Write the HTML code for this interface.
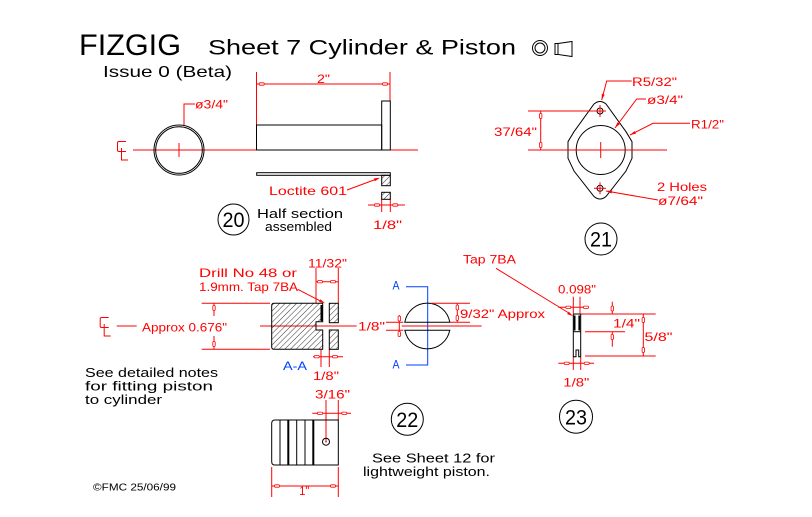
<!DOCTYPE html>
<html><head><meta charset="utf-8"><style>
html,body{margin:0;padding:0;background:#fff;}
svg{display:block;}
text{font-family:"Liberation Sans",sans-serif;}
.r{fill:#f00;font-size:12px;}
.k{fill:#000;font-size:13px;}
.b{fill:#0040ff;font-size:12px;}
.n{fill:#000;font-size:21px;}
</style></head><body>
<svg width="812" height="517" viewBox="0 0 812 517" xmlns="http://www.w3.org/2000/svg">
<defs>
<pattern id="h" width="4" height="4" patternUnits="userSpaceOnUse" patternTransform="rotate(45)">
<line x1="0" y1="0" x2="0" y2="4" stroke="#000" stroke-width="0.8"/>
</pattern>
<pattern id="d" width="3" height="3" patternUnits="userSpaceOnUse">
<rect x="0" y="1" width="1.5" height="1" fill="#000"/>
</pattern>
</defs>
<rect width="812" height="517" fill="#fff"/>

<!-- Title -->
<text x="79" y="55" font-size="30" textLength="102" lengthAdjust="spacingAndGlyphs" fill="#000">FIZGIG</text>
<text x="208" y="54.5" font-size="21" textLength="308" lengthAdjust="spacingAndGlyphs" fill="#000">Sheet 7 Cylinder &amp; Piston</text>
<circle cx="540" cy="48" r="7.5" fill="none" stroke="#000"/>
<circle cx="540" cy="48" r="5" fill="none" stroke="#000"/>
<path d="M558,43.5 L572,41.5 L572,56.5 L558,54.5 Z M558,43.5 H555 V54.5 H558" fill="none" stroke="#000"/>
<text x="103" y="77" font-size="16" textLength="129" lengthAdjust="spacingAndGlyphs" fill="#000">Issue 0 (Beta)</text>

<!-- Drawing 20 -->
<g stroke="#f00" stroke-width="1" fill="none">
<line x1="256.5" y1="72" x2="256.5" y2="125"/>
<line x1="390" y1="72" x2="390" y2="101"/>
<line x1="256.5" y1="84" x2="390" y2="84"/>
<line x1="133" y1="150" x2="418" y2="150"/>
<line x1="179" y1="143" x2="179" y2="157"/>
<polyline points="184,125 184,104 195,104"/>
<path d="M126,141.5 H119 Q117.5,141.5 117.5,143 V150 Q117.5,151.5 119,151.5 H126 M121.5,148 V160 H128"/>
<line x1="347" y1="190" x2="378" y2="178.5"/>
<line x1="381.7" y1="199" x2="381.7" y2="212"/>
<line x1="390.3" y1="199" x2="390.3" y2="212"/>
<line x1="368" y1="205" x2="405" y2="205"/>
</g>
<g fill="#fff" stroke="#f00" stroke-width="0.8">
<rect x="259.2" y="82.8" width="5" height="2.4" rx="1"/>
<rect x="382.5" y="82.8" width="5" height="2.4" rx="1"/>
<rect x="374.5" y="203.8" width="5" height="2.4" rx="1"/>
<rect x="392.8" y="203.8" width="5" height="2.4" rx="1"/>
</g>
<polygon points="380,177.7 374.9,181.2 373.9,178.4" fill="#f00"/>
<text class="r" x="317" y="83" textLength="13" lengthAdjust="spacingAndGlyphs">2"</text>
<text class="r" x="195" y="108.5" textLength="33" lengthAdjust="spacingAndGlyphs">ø3/4"</text>
<text class="r" x="269" y="195" textLength="78" lengthAdjust="spacingAndGlyphs">Loctite 601</text>
<text class="r" x="373" y="229" textLength="29" lengthAdjust="spacingAndGlyphs">1/8"</text>
<g stroke="#000" stroke-width="1" fill="none">
<circle cx="179" cy="150" r="25"/>
<circle cx="179" cy="150" r="23.3"/>
<rect x="256.5" y="125" width="125.2" height="25"/>
<rect x="381.7" y="101" width="8.6" height="49"/>
<rect x="256.7" y="172.7" width="133.6" height="2.6" fill="url(#d)"/>
<rect x="381.7" y="175.3" width="8.6" height="10.4" fill="url(#h)"/>
<rect x="381.7" y="192.3" width="8.6" height="7" fill="url(#h)"/>
<circle cx="233.5" cy="219.5" r="15.5"/>
</g>
<text class="n" x="222.5" y="227" textLength="22" lengthAdjust="spacingAndGlyphs">20</text>
<text class="k" x="257" y="218" textLength="86" lengthAdjust="spacingAndGlyphs">Half section</text>
<text class="k" x="265" y="231" textLength="67" lengthAdjust="spacingAndGlyphs">assembled</text>

<!-- Drawing 21 -->
<g stroke="#000" stroke-width="1" fill="none">
<path d="M594,104 Q600,99 606,104 L626,131.7 L632,141.7 L632,158.3 L626,171 L606,196.5 Q600,201.5 594,196.5 L574,171 L568,158.3 L568,141.7 L574,131.7 Z"/>
<circle cx="600.7" cy="150" r="24.5"/>
<circle cx="600" cy="111" r="3"/>
<circle cx="600" cy="188.3" r="3"/>
<circle cx="601" cy="239" r="16"/>
</g>
<g stroke="#f00" stroke-width="1" fill="none">
<line x1="528" y1="150" x2="667" y2="150"/>
<line x1="600.7" y1="142" x2="600.7" y2="158"/>
<line x1="594" y1="111" x2="606" y2="111"/>
<line x1="600" y1="105" x2="600" y2="117"/>
<line x1="594" y1="188.3" x2="606" y2="188.3"/>
<line x1="600" y1="182.3" x2="600" y2="194.3"/>
<line x1="528" y1="111" x2="594" y2="111"/>
<line x1="540.7" y1="111" x2="540.7" y2="150"/>
<polyline points="601.7,100 606.7,81 631.7,81"/>
<polyline points="615,128 636.7,99 646,99"/>
<polyline points="630,135 653,123.3 690,123.3"/>
<line x1="606" y1="191" x2="658" y2="200"/>
</g>
<g fill="#fff" stroke="#f00" stroke-width="0.8">
<rect x="539.5" y="113.5" width="2.4" height="5" rx="1"/>
<rect x="539.5" y="142.5" width="2.4" height="5" rx="1"/>
</g>
<g fill="#f00">
<polygon points="636.03,133.62 634.67,130.94 630,135"/>
<polygon points="619.8,124.1 617.4,122.3 615,128"/>
<polygon points="604.7,94.6 601.8,93.8 601.7,100"/>
<polygon points="612.2,190.5 611.6,193.5 606,191"/>
</g>
<text class="r" x="494" y="136" textLength="43" lengthAdjust="spacingAndGlyphs">37/64"</text>
<text class="r" x="632" y="86" textLength="45" lengthAdjust="spacingAndGlyphs">R5/32"</text>
<text class="r" x="647" y="104" textLength="36" lengthAdjust="spacingAndGlyphs">ø3/4"</text>
<text class="r" x="691" y="128.5" textLength="33" lengthAdjust="spacingAndGlyphs">R1/2"</text>
<text class="r" x="657" y="191" textLength="50" lengthAdjust="spacingAndGlyphs">2 Holes</text>
<text class="r" x="658" y="205" textLength="45" lengthAdjust="spacingAndGlyphs">ø7/64"</text>
<text class="n" x="590" y="246.5" textLength="22" lengthAdjust="spacingAndGlyphs">21</text>

<!-- Drawing 22 section -->
<g stroke="#f00" stroke-width="1" fill="none">
<line x1="297.7" y1="289.3" x2="321" y2="301.3"/>
<line x1="316" y1="268" x2="316" y2="303"/>
<line x1="338.3" y1="268" x2="338.3" y2="303"/>
<line x1="316" y1="281.7" x2="338.3" y2="281.7"/>
<line x1="260" y1="326" x2="356.7" y2="326"/>
<line x1="321" y1="349" x2="321" y2="367"/>
<line x1="329.3" y1="349" x2="329.3" y2="367"/>
<line x1="313" y1="356.7" x2="343" y2="356.7"/>
<line x1="201.7" y1="303.3" x2="270" y2="303.3"/>
<line x1="201.7" y1="349.3" x2="270" y2="349.3"/>
<line x1="214" y1="303.3" x2="214" y2="316"/>
<line x1="214" y1="336" x2="214" y2="349.3"/>
<line x1="116.7" y1="326" x2="136.7" y2="326"/>
<path transform="translate(-17.3,176)" d="M126,141.5 H119 Q117.5,141.5 117.5,143 V150 Q117.5,151.5 119,151.5 H126 M121.5,148 V160 H128"/>
</g>
<g fill="#fff" stroke="#f00" stroke-width="0.8">
<rect x="317.5" y="280.5" width="5" height="2.4" rx="1"/>
<rect x="330.5" y="280.5" width="5" height="2.4" rx="1"/>
<rect x="314.2" y="355.5" width="5" height="2.4" rx="1"/>
<rect x="332.5" y="355.5" width="5" height="2.4" rx="1"/>
<rect x="212.8" y="305.5" width="2.4" height="5" rx="1"/>
<rect x="212.8" y="341.5" width="2.4" height="5" rx="1"/>
</g>
<polygon points="318.99,301.89 320.35,299.23 325,303.3" fill="#f00"/>
<g stroke="#000" stroke-width="1">
<path d="M274,303.3 L322.7,303.3 L322.7,321.7 L316,321.7 L316,330 L322.7,330 L322.7,349.3 L274,349.3 Q271.7,349.3 271.7,347 L271.7,305.6 Q271.7,303.3 274,303.3 Z" fill="url(#h)"/>
<line x1="321.5" y1="305" x2="321.5" y2="321" stroke-width="2"/>
<rect x="329.3" y="303.3" width="9" height="19.4" fill="url(#h)"/>
<rect x="329.3" y="330" width="9" height="19.3" fill="url(#h)"/>
</g>
<text class="r" x="199" y="277" textLength="98" lengthAdjust="spacingAndGlyphs">Drill No 48 or</text>
<text class="r" x="199" y="291" textLength="99" lengthAdjust="spacingAndGlyphs">1.9mm. Tap 7BA</text>
<text class="r" x="308" y="267.5" textLength="39" lengthAdjust="spacingAndGlyphs">11/32"</text>
<text class="r" x="358" y="330.5" textLength="27" lengthAdjust="spacingAndGlyphs">1/8"</text>
<text class="r" x="313" y="380" textLength="26" lengthAdjust="spacingAndGlyphs">1/8"</text>
<text class="b" x="283" y="370" textLength="24" lengthAdjust="spacingAndGlyphs">A-A</text>
<text class="r" x="142" y="331.5" textLength="85" lengthAdjust="spacingAndGlyphs">Approx 0.676"</text>
<text class="k" x="85" y="377" textLength="133" lengthAdjust="spacingAndGlyphs">See detailed notes</text>
<text class="k" x="85" y="390.5" textLength="128" lengthAdjust="spacingAndGlyphs">for fitting piston</text>
<text class="k" x="85" y="404" textLength="77" lengthAdjust="spacingAndGlyphs">to cylinder</text>

<!-- A-A view -->
<g stroke="#0040ff" stroke-width="1" fill="none">
<polyline points="406,286.7 427.7,286.7 427.7,365 406,365"/>
</g>
<text class="b" x="392.5" y="289.5" textLength="7" lengthAdjust="spacingAndGlyphs">A</text>
<text class="b" x="392.5" y="368.5" textLength="7" lengthAdjust="spacingAndGlyphs">A</text>
<g stroke="#000" stroke-width="1" fill="none">
<path d="M404.8,322.3 A22.8,22.8 0 0 1 449.8,322.3"/>
<path d="M404.9,330.3 A22.8,22.8 0 0 0 449.7,330.3"/>
<line x1="404.3" y1="322.3" x2="450.3" y2="322.3"/>
<line x1="404.3" y1="330.3" x2="450.3" y2="330.3"/>
</g>
<g stroke="#f00" stroke-width="1" fill="none">
<line x1="401.7" y1="326" x2="481.7" y2="326"/>
<line x1="386" y1="322.3" x2="403.3" y2="322.3"/>
<line x1="386" y1="330.3" x2="403.3" y2="330.3"/>
<line x1="399.3" y1="315" x2="399.3" y2="336.7"/>
<line x1="431" y1="303.3" x2="470" y2="303.3"/>
<line x1="450" y1="322.3" x2="470" y2="322.3"/>
<line x1="457.3" y1="303.3" x2="457.3" y2="322.3"/>
</g>
<g fill="#fff" stroke="#f00" stroke-width="0.8">
<rect x="398.1" y="316" width="2.4" height="5" rx="1"/>
<rect x="398.1" y="331.5" width="2.4" height="5" rx="1"/>
<rect x="456.1" y="305" width="2.4" height="5" rx="1"/>
<rect x="456.1" y="315.5" width="2.4" height="5" rx="1"/>
</g>
<text class="r" x="460" y="318" textLength="85" lengthAdjust="spacingAndGlyphs">9/32" Approx</text>

<!-- Drawing 23 -->
<g stroke="#f00" stroke-width="1" fill="none">
<line x1="496" y1="268.3" x2="568" y2="312.5"/>
<line x1="573.3" y1="296.7" x2="573.3" y2="313.3"/>
<line x1="580" y1="296.7" x2="580" y2="313.3"/>
<line x1="558.3" y1="307.3" x2="588.3" y2="307.3"/>
<line x1="580" y1="314" x2="655.7" y2="314"/>
<line x1="585" y1="331.7" x2="625" y2="331.7"/>
<line x1="612.3" y1="301.7" x2="612.3" y2="314"/>
<line x1="612.3" y1="331.7" x2="612.3" y2="346.7"/>
<line x1="585" y1="356" x2="655.7" y2="356"/>
<line x1="643.3" y1="314" x2="643.3" y2="356"/>
<line x1="573.3" y1="357" x2="573.3" y2="370"/>
<line x1="580.7" y1="357" x2="580.7" y2="370"/>
<line x1="558.3" y1="363.3" x2="594" y2="363.3"/>
</g>
<g fill="#fff" stroke="#f00" stroke-width="0.8">
<rect x="565.8" y="306.1" width="5" height="2.4" rx="1"/>
<rect x="583.5" y="306.1" width="5" height="2.4" rx="1"/>
<rect x="611.1" y="306" width="2.4" height="5" rx="1"/>
<rect x="611.1" y="334.5" width="2.4" height="5" rx="1"/>
<rect x="642.1" y="317.5" width="2.4" height="5" rx="1"/>
<rect x="642.1" y="347.5" width="2.4" height="5" rx="1"/>
<rect x="564.2" y="362.1" width="5" height="2.4" rx="1"/>
<rect x="584.2" y="362.1" width="5" height="2.4" rx="1"/>
</g>
<polygon points="567.1,314.1 568.7,311.6 573,316" fill="#f00"/>
<g stroke="#000" stroke-width="1" fill="none">
<path d="M573.3,314 H580.7 V356.7 H578.7 V350 H576 V356.7 H573.3 Z"/>
<line x1="573.3" y1="331.7" x2="580.7" y2="331.7"/>
<line x1="574.6" y1="315.5" x2="574.6" y2="330.5" stroke-width="1.8"/>
<line x1="579.3" y1="315.5" x2="579.3" y2="330.5" stroke-width="1.8"/>
<circle cx="576" cy="416.7" r="16.5"/>
</g>
<text class="r" x="463" y="263.5" textLength="53" lengthAdjust="spacingAndGlyphs">Tap 7BA</text>
<text class="r" x="558" y="293.5" textLength="38" lengthAdjust="spacingAndGlyphs">0.098"</text>
<text class="r" x="613" y="327.5" textLength="27" lengthAdjust="spacingAndGlyphs">1/4"</text>
<text class="r" x="644.5" y="341" textLength="28" lengthAdjust="spacingAndGlyphs">5/8"</text>
<text class="r" x="563.3" y="386.7" textLength="26" lengthAdjust="spacingAndGlyphs">1/8"</text>
<text class="n" x="565" y="424.5" textLength="22" lengthAdjust="spacingAndGlyphs">23</text>

<!-- Bottom piston side view -->
<g stroke="#f00" stroke-width="1" fill="none">
<line x1="326" y1="400" x2="326" y2="441.7"/>
<line x1="338.3" y1="400" x2="338.3" y2="420"/>
<line x1="312.3" y1="413.3" x2="351" y2="413.3"/>
<line x1="271.7" y1="467" x2="271.7" y2="497"/>
<line x1="338.3" y1="467" x2="338.3" y2="497"/>
<line x1="271.7" y1="486" x2="338.3" y2="486"/>
</g>
<g fill="#fff" stroke="#f00" stroke-width="0.8">
<rect x="317.5" y="412.1" width="5" height="2.4" rx="1"/>
<rect x="341.8" y="412.1" width="5" height="2.4" rx="1"/>
<rect x="274.5" y="484.8" width="5" height="2.4" rx="1"/>
<rect x="330.5" y="484.8" width="5" height="2.4" rx="1"/>
</g>
<g stroke="#000" stroke-width="1" fill="none">
<path d="M275,420 H338.3 V465 H275 Q271.7,465 271.7,461.7 V423.3 Q271.7,420 275,420 Z"/>
<line x1="280" y1="420" x2="280" y2="465"/>
<line x1="288.3" y1="420" x2="288.3" y2="465" stroke-width="2"/>
<line x1="296.7" y1="420" x2="296.7" y2="465"/>
<line x1="305" y1="420" x2="305" y2="465"/>
<line x1="313.3" y1="420" x2="313.3" y2="465" stroke-width="2"/>
<circle cx="326" cy="441.7" r="3.5"/>
<circle cx="407.3" cy="419.3" r="16"/>
</g>
<circle cx="326" cy="441.7" r="0.8" fill="#f00"/>
<text class="r" x="315" y="398.3" textLength="35" lengthAdjust="spacingAndGlyphs">3/16"</text>
<text class="r" x="299.3" y="495" textLength="10" lengthAdjust="spacingAndGlyphs">1"</text>
<text class="n" x="396.3" y="427" textLength="22" lengthAdjust="spacingAndGlyphs">22</text>
<text class="k" x="372" y="462.7" textLength="123" lengthAdjust="spacingAndGlyphs">See Sheet 12 for</text>
<text class="k" x="363" y="476" textLength="127" lengthAdjust="spacingAndGlyphs">lightweight piston.</text>

<text x="93" y="490.7" font-size="10" textLength="83" lengthAdjust="spacingAndGlyphs" fill="#000">©FMC 25/06/99</text>
</svg>
</body></html>
